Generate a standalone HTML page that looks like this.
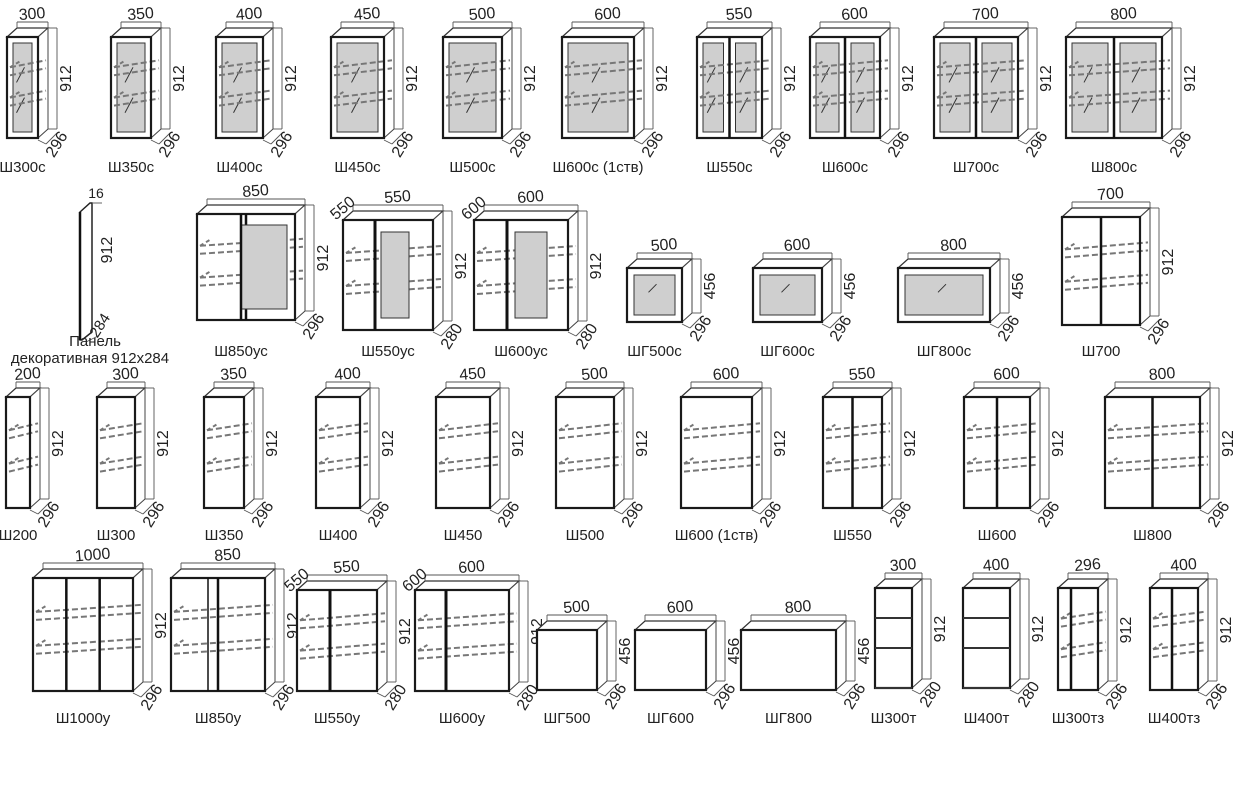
<!DOCTYPE html>
<html><head><meta charset="utf-8"><style>
html,body{margin:0;padding:0;background:#fff}
svg{display:block}
text{font-family:"Liberation Sans",sans-serif;fill:#222}
</style></head><body>
<svg id="s" width="1246" height="799" xmlns="http://www.w3.org/2000/svg"></svg>
<script>
var S=document.getElementById('s'),out='';
function L(a,b,c,d,st){out+='<line x1="'+a+'" y1="'+b+'" x2="'+c+'" y2="'+d+'" style="'+st+'"/>';}
function T(x,y,t,sz,rot,anchor){out+='<text x="'+x+'" y="'+y+'" font-size="'+sz+'" text-anchor="'+(anchor||'middle')+'"'+(rot?' transform="rotate('+rot+' '+x+' '+y+')"':'')+'>'+t+'</text>';}
var thin='stroke:#555;stroke-width:0.9;fill:none',thick='stroke:#1a1a1a;stroke-width:2.2;fill:none';
function cab(o){
 var x=o.x,y=o.y,w=o.w,h=o.h,dx=o.dx||10,dy=-(o.dd||9);
 out+='<polygon points="'+x+','+y+' '+(x+dx)+','+(y+dy)+' '+(x+w+dx)+','+(y+dy)+' '+(x+w)+','+y+'" style="fill:#fff;stroke:#333;stroke-width:1.2"/>';
 out+='<polygon points="'+(x+w)+','+y+' '+(x+w+dx)+','+(y+dy)+' '+(x+w+dx)+','+(y+h+dy)+' '+(x+w)+','+(y+h)+'" style="fill:#fff;stroke:#444;stroke-width:1"/>';
 out+='<rect x="'+x+'" y="'+y+'" width="'+w+'" height="'+h+'" style="fill:#fff;stroke:#333;stroke-width:1"/>';
 var d=o.doors||1,dw=w/d;
 if(o.glass){for(var i=0;i<d;i++){var gx=x+i*dw+ (o.gi||6);out+='<rect x="'+gx+'" y="'+(y+(o.gi||6))+'" width="'+(dw-2*(o.gi||6))+'" height="'+(h-2*(o.gi||6))+'" style="fill:#cfcfcf;stroke:#333;stroke-width:1"/>';
   L(gx+dw/2-6-(o.gi||6),y+h*0.45,gx+dw/2+2-(o.gi||6),y+h*0.3,'stroke:#333;stroke-width:1');
   if(h>80)L(gx+dw/2-6-(o.gi||6),y+h*0.75,gx+dw/2+2-(o.gi||6),y+h*0.6,'stroke:#333;stroke-width:1');}}
 if(o.shelves!==false&&h>80){[0.3,0.6].forEach(function(f){var sy=y+h*f;
   L(x+3,sy,x+w+dx-2,sy+dy+2,'stroke:#777;stroke-width:2;stroke-dasharray:6,3');
   L(x+3,sy+8,x+w+dx-2,sy+dy+10,'stroke:#777;stroke-width:2;stroke-dasharray:6,3');
   L(x+3,sy,x+3+dx,sy-6,'stroke:#777;stroke-width:2;stroke-dasharray:4,3');});}
 out+='<rect x="'+x+'" y="'+y+'" width="'+w+'" height="'+h+'" style="'+thick+'"/>';
 for(var i=1;i<d;i++)L(x+i*dw,y,x+i*dw,y+h,'stroke:#111;stroke-width:2.5');
 var wy=y+dy-6;L(x+dx,wy,x+w+dx,wy,thin);L(x+dx,wy,x+dx,y+dy,thin);L(x+w+dx,wy,x+w+dx,y+dy,thin);
 T(x+dx+w/2,wy-3,o.wl,16,-5);
 var hx=x+w+dx+9;L(hx,y+dy,hx,y+h+dy,thin);L(x+w+dx,y+dy,hx,y+dy,thin);L(x+w+dx,y+h+dy,hx,y+h+dy,thin);
 T(hx+14,y+dy+h/2,o.hl||'912',16,-90);
 L(x+w,y+h+2,x+w+8,y+h+6,thin);L(x+w+8,y+h+6,hx,y+h+dy+4,thin);
 T(x+w+dx+13,y+h+9,o.dl||'296',16,-58);
 T(x+w/2+(o.nx||0),o.ny,o.name,15);
}
var R1=[[7,31,'300','Ш300с',1],[111,40,'350','Ш350с',1],[216,47,'400','Ш400с',1],[331,53,'450','Ш450с',1],[443,59,'500','Ш500с',1],[562,72,'600','Ш600с (1ств)',1],[697,65,'550','Ш550с',2],[810,70,'600','Ш600с',2],[934,84,'700','Ш700с',2],[1066,96,'800','Ш800с',2]];
R1.forEach(function(r){cab({x:r[0],y:37,w:r[1],h:101,wl:r[2],name:r[3],doors:r[4],glass:1,ny:172});});
out+='<polygon points="80,212 90,203 92,203 92,332 82,340 80,340" style="fill:#fff;stroke:#222;stroke-width:1.5"/>';
L(80,212,80,340,'stroke:#111;stroke-width:2.5');
L(93,203,102,203,thin);T(96,198,'16',14,0);T(112,250,'912',16,-90);L(86,342,98,336,thin);T(104,328,'284',15,-58);
T(95,346,'Панель',15);T(90,363,'декоративная 912х284',15);
cab({x:197,y:214,w:98,h:106,wl:'850',name:'Ш850ус',doors:2,ny:356,nx:-5});
out+='<rect x="241" y="225" width="46" height="84" style="fill:#cfcfcf;stroke:#333"/>';L(241,214,241,320,'stroke:#111;stroke-width:2.5');
cab({x:343,y:220,w:90,h:110,wl:'550',name:'Ш550ус',dl:'280',ny:356});
out+='<rect x="381" y="232" width="28" height="86" style="fill:#cfcfcf;stroke:#333"/>';L(375,220,375,330,'stroke:#111;stroke-width:3');T(346,212,'550',16,-40);
cab({x:474,y:220,w:94,h:110,wl:'600',name:'Ш600ус',dl:'280',ny:356});
out+='<rect x="515" y="232" width="32" height="86" style="fill:#cfcfcf;stroke:#333"/>';L(507,220,507,330,'stroke:#111;stroke-width:3');T(477,212,'600',16,-40);
cab({x:627,y:268,w:55,h:54,wl:'500',hl:'456',name:'ШГ500с',glass:1,gi:7,ny:356});
cab({x:753,y:268,w:69,h:54,wl:'600',hl:'456',name:'ШГ600с',glass:1,gi:7,ny:356});
cab({x:898,y:268,w:92,h:54,wl:'800',hl:'456',name:'ШГ800с',glass:1,gi:7,ny:356});
cab({x:1062,y:217,w:78,h:108,wl:'700',name:'Ш700',doors:2,ny:356});
var R3=[[6,24,'200','Ш200'],[97,38,'300','Ш300'],[204,40,'350','Ш350'],[316,44,'400','Ш400'],[436,54,'450','Ш450'],[556,58,'500','Ш500'],[681,71,'600','Ш600 (1ств)'],[823,59,'550','Ш550',2],[964,66,'600','Ш600',2],[1105,95,'800','Ш800',2]];
R3.forEach(function(r){cab({x:r[0],y:397,w:r[1],h:111,wl:r[2],name:r[3],doors:r[4]||1,ny:540});});
cab({x:33,y:578,w:100,h:113,wl:'1000',name:'Ш1000у',doors:3,ny:723});
cab({x:171,y:578,w:94,h:113,wl:'850',name:'Ш850у',doors:2,ny:723});L(208,578,208,691,'stroke:#111;stroke-width:1.5');
cab({x:297,y:590,w:80,h:101,wl:'550',name:'Ш550у',dl:'280',ny:723});L(330,590,330,691,'stroke:#111;stroke-width:3');T(300,584,'550',16,-40);
cab({x:415,y:590,w:94,h:101,wl:'600',name:'Ш600у',dl:'280',ny:723});L(446,590,446,691,'stroke:#111;stroke-width:3');T(418,584,'600',16,-40);
cab({x:537,y:630,w:60,h:60,wl:'500',hl:'456',name:'ШГ500',ny:723});
cab({x:635,y:630,w:71,h:60,wl:'600',hl:'456',name:'ШГ600',ny:723});
cab({x:741,y:630,w:95,h:60,wl:'800',hl:'456',name:'ШГ800',ny:723});
cab({x:875,y:588,w:37,h:100,wl:'300',name:'Ш300т',dl:'280',shelves:false,ny:723});
cab({x:963,y:588,w:47,h:100,wl:'400',name:'Ш400т',dl:'280',shelves:false,ny:723});
[875,963].forEach(function(x,i){var w=i?47:37;[618,648,688].forEach(function(sy){L(x,sy,x+w,sy,'stroke:#333;stroke-width:2');});});
cab({x:1058,y:588,w:40,h:102,wl:'296',name:'Ш300тз',ny:723});L(1071,588,1071,690,'stroke:#111;stroke-width:2.5');
cab({x:1150,y:588,w:48,h:102,wl:'400',name:'Ш400тз',ny:723});L(1172,588,1172,690,'stroke:#111;stroke-width:2.5');
S.innerHTML=out;
</script>
</body></html>
